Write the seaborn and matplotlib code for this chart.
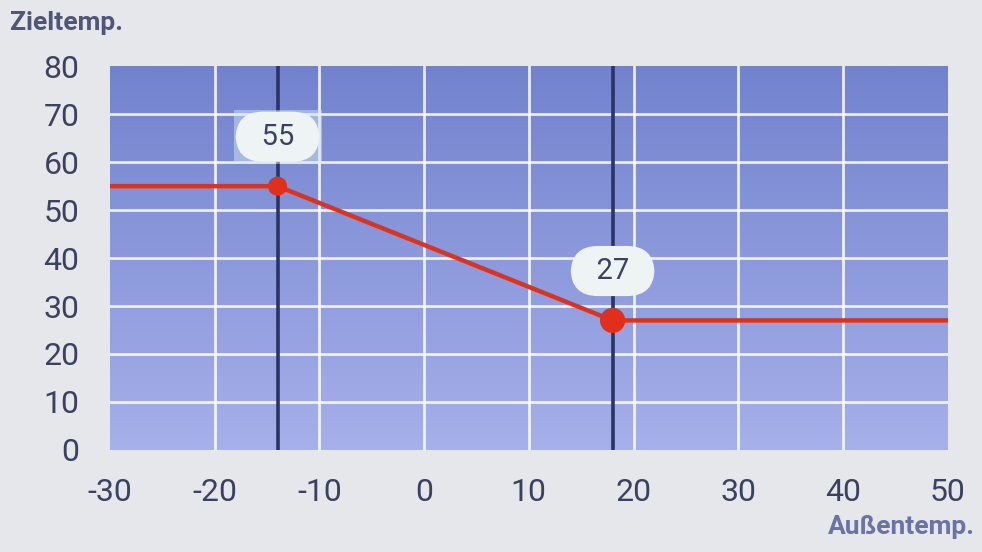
import matplotlib
matplotlib.use("Agg")
import matplotlib.pyplot as plt
import numpy as np
import pandas as pd
import seaborn as sns
from matplotlib import font_manager

# heating curve: outside temp -> target flow temp
curve_x = [-30, -14, 18, 50]
curve_y = [55, 55, 27, 27]
point_x = [-14, 18]
point_y = [55, 27]
point_size = [190, 330]
point_labels = ["55", "27"]
x_ticks = [-30, -20, -10, 0, 10, 20, 30, 40, 50]
y_ticks = [0, 10, 20, 30, 40, 50, 60, 70, 80]

sns.set_theme(style="white")
installed = {f.name for f in font_manager.fontManager.ttflist}
fam = [f for f in ["Liberation Sans Narrow", "Roboto", "DejaVu Sans"] if f in installed]
plt.rcParams["font.family"] = fam
plt.rcParams["axes.unicode_minus"] = False

BG = "#e5e7ea"
TXT = "#3c4160"

fig = plt.figure(figsize=(9.82, 5.52), dpi=100, facecolor=BG)
ax = fig.add_axes([0.112, 0.185, 0.853, 0.695])
ax.set_xlim(-30, 50)
ax.set_ylim(0, 80)

# blue gradient background, darker at the top
grad = np.linspace(0, 1, 256).reshape(-1, 1)
cmap = matplotlib.colors.LinearSegmentedColormap.from_list("bg", ["#7282cd", "#a6b0ea"])
ax.imshow(grad, cmap=cmap, aspect="auto", extent=[0, 1, 0, 1],
          transform=ax.transAxes, zorder=0)

for xv in x_ticks[1:-1]:
    ax.axvline(xv, color="white", lw=2.0, alpha=0.85, zorder=1)
for yv in y_ticks[1:-1]:
    ax.axhline(yv, color="white", lw=2.0, alpha=0.85, zorder=1)

for xv in point_x:
    ax.axvline(xv, color="#2a3468", lw=2.6, zorder=2)

df = pd.DataFrame({"x": curve_x, "y": curve_y})
sns.lineplot(data=df, x="x", y="y", color="#d8341f", lw=3.2, ax=ax, zorder=3)
pts = pd.DataFrame({"x": point_x, "y": point_y, "s": point_size})
ax.scatter(pts["x"], pts["y"], s=pts["s"], color="#e0301c", zorder=4, linewidths=0)

for i, (px, py, lab) in enumerate(zip(point_x, point_y, point_labels)):
    shown = "  " + lab + "  "
    if i == 0:
        ax.text(px, py + 10.3, shown, ha="center", va="center", fontsize=21, color="none",
                bbox=dict(boxstyle="square,pad=0.45", fc="#cfe6ef", ec="none", alpha=0.5),
                zorder=5)
    ax.text(px, py + 10.3, shown, ha="center", va="center", fontsize=21, color=TXT,
            bbox=dict(boxstyle="round,pad=0.38,rounding_size=0.95", fc="#eef3f4", ec="none"),
            zorder=6)

ax.set_xticks(x_ticks)
ax.set_yticks(y_ticks)
ax.tick_params(axis="both", length=0, labelsize=23, labelcolor=TXT)
ax.tick_params(axis="x", pad=20)
ax.tick_params(axis="y", pad=22)
ax.set_xlabel("")
ax.set_ylabel("")
for sp in ax.spines.values():
    sp.set_visible(False)

fig.text(0.010, 0.958, "Zieltemp.", fontsize=19, color="#50557a", weight="bold",
         ha="left", va="center")
fig.text(0.993, 0.045, "Außentemp.", fontsize=19, color="#6a72a6", weight="bold",
         ha="right", va="center")

fig.savefig("out.png", dpi=100, facecolor=BG)
